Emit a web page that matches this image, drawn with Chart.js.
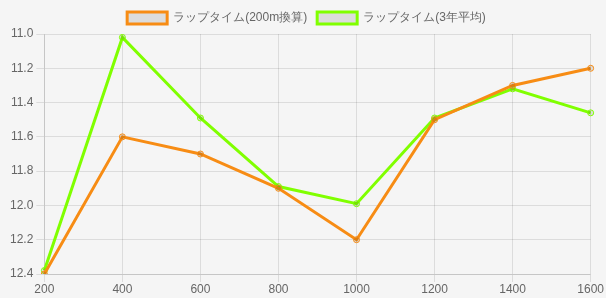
<!DOCTYPE html>
<html>
  <head>
    <title>Lap Time</title>
    <script src="https://cdn.jsdelivr.net/npm/chart.js"></script>
    <style>
      html, body { margin: 0; padding: 0; background: #f5f5f5; }
      #wrap { width: 606px; height: 298px; }
    </style>
  </head>
  <body>
    <div id="wrap"><canvas id="lap"></canvas></div>
    <script>
      const distances = ["200", "400", "600", "800", "1000", "1200", "1400", "1600"];
      const lap200 = [12.4, 11.6, 11.7, 11.9, 12.2, 11.5, 11.3, 11.2];
      const lap3yr = [12.38, 11.02, 11.49, 11.89, 11.99, 11.49, 11.32, 11.46];

      const ctx = document.getElementById("lap").getContext("2d");
      Chart.defaults.font.family = "'Liberation Sans', Arial, sans-serif";
      Chart.defaults.font.size = 12;
      Chart.defaults.color = "#666";

      let lapChart = new Chart(ctx, {
        type: "line",
        data: {
          labels: distances,
          datasets: [
            {
              label: "ラップタイム(200m換算)",
              borderColor: "rgb(247,140,20)",
              backgroundColor: "rgba(0,0,0,0.1)",
              borderWidth: 3,
              pointRadius: 3,
              pointBorderWidth: 1,
              tension: 0,
              data: lap200,
            },
            {
              label: "ラップタイム(3年平均)",
              borderColor: "rgb(128,255,0)",
              backgroundColor: "rgba(0,0,0,0.1)",
              borderWidth: 3,
              pointRadius: 3,
              pointBorderWidth: 1,
              tension: 0,
              data: lap3yr,
            },
          ],
        },
        options: {
          responsive: true,
          maintainAspectRatio: false,
          animation: false,
          layout: { padding: { left: 7, top: 2, right: 0, bottom: 0 } },
          plugins: {
            legend: {
              labels: { boxWidth: 40, boxHeight: 12, font: { size: 12 }, padding: 10 },
            },
            tooltip: { enabled: false },
          },
          scales: {
            x: {
              grid: { color: "rgba(0,0,0,0.1)" },
              ticks: { font: { size: 12, lineHeight: 1 }, padding: 2 },
            },
            y: {
              reverse: true,
              min: 11.0,
              max: 12.4,
              grid: { color: "rgba(0,0,0,0.1)" },
              ticks: {
                stepSize: 0.2,
                font: { size: 12 },
                callback: (v) => Number(v).toFixed(1),
              },
            },
          },
        },
      });
    </script>
  </body>
</html>
